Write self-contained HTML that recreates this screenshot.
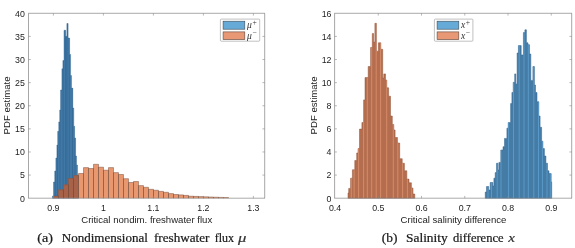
<!DOCTYPE html>
<html lang="en"><head><meta charset="utf-8"><title>PDF estimates</title>
<style>html,body{margin:0;padding:0;background:#fff}svg{display:block}.s{font-family:"Liberation Sans",sans-serif;font-size:8.8px;fill:#1c1c1c}.l{font-size:9.58px}.c{font-family:"Liberation Serif",serif;font-size:12.2px;fill:#1a1a1a;stroke:#1a1a1a;stroke-width:0.22px}.m{font-family:"Liberation Serif",serif;font-style:italic;fill:#333}</style></head><body>
<svg width="575" height="248" viewBox="0 0 575 248">
<rect width="575" height="248" fill="#fff"/>
<polygon points="52.50,198.20 52.50,196.00 53.50,196.00 53.50,182.00 54.75,182.00 54.75,171.00 55.90,171.00 55.90,158.00 56.90,158.00 56.90,145.00 57.75,145.00 57.75,131.25 58.75,131.25 58.75,121.90 59.75,121.90 59.75,110.00 60.60,110.00 60.60,90.00 61.90,90.00 61.90,68.75 62.90,68.75 62.90,60.60 64.00,60.60 64.00,30.25 65.60,30.25 65.60,36.25 66.90,36.25 66.90,23.50 68.10,23.50 68.10,38.10 69.60,38.10 69.60,54.40 70.60,54.40 70.60,75.60 71.50,75.60 71.50,88.10 72.75,88.10 72.75,108.00 73.75,108.00 73.75,126.25 74.60,126.25 74.60,138.00 75.60,138.00 75.60,156.00 76.50,156.00 76.50,165.00 77.50,165.00 77.50,175.00 78.30,175.00 78.30,198.20" fill="#4179a6" stroke="#2f6390" stroke-width="0.4" stroke-linejoin="round"/>
<clipPath id="cb1"><polygon points="52.50,198.20 52.50,196.00 53.50,196.00 53.50,182.00 54.75,182.00 54.75,171.00 55.90,171.00 55.90,158.00 56.90,158.00 56.90,145.00 57.75,145.00 57.75,131.25 58.75,131.25 58.75,121.90 59.75,121.90 59.75,110.00 60.60,110.00 60.60,90.00 61.90,90.00 61.90,68.75 62.90,68.75 62.90,60.60 64.00,60.60 64.00,30.25 65.60,30.25 65.60,36.25 66.90,36.25 66.90,23.50 68.10,23.50 68.10,38.10 69.60,38.10 69.60,54.40 70.60,54.40 70.60,75.60 71.50,75.60 71.50,88.10 72.75,88.10 72.75,108.00 73.75,108.00 73.75,126.25 74.60,126.25 74.60,138.00 75.60,138.00 75.60,156.00 76.50,156.00 76.50,165.00 77.50,165.00 77.50,175.00 78.30,175.00 78.30,198.20"/></clipPath>
<path d="M55.20 0V198.2M57.40 0V198.2M60.00 0V198.2M63.10 0V198.2M65.60 0V198.2M66.90 0V198.2M69.30 0V198.2M72.50 0V198.2M75.00 0V198.2" stroke="#2b5a86" stroke-width="0.6" fill="none" opacity="0.8" clip-path="url(#cb1)"/>
<rect x="53.50" y="196.25" width="5.00" height="1.95" fill="#e9976f"/>
<rect x="58.50" y="189.75" width="5.00" height="8.45" fill="#e9976f"/>
<rect x="63.50" y="184.75" width="5.00" height="13.45" fill="#e9976f"/>
<rect x="68.50" y="178.50" width="5.00" height="19.70" fill="#e9976f"/>
<rect x="73.50" y="175.60" width="5.00" height="22.60" fill="#e9976f"/>
<rect x="78.50" y="173.50" width="5.00" height="24.70" fill="#e9976f"/>
<rect x="83.50" y="167.60" width="5.00" height="30.60" fill="#e9976f"/>
<rect x="88.50" y="168.50" width="5.00" height="29.70" fill="#e9976f"/>
<rect x="93.50" y="164.30" width="5.00" height="33.90" fill="#e9976f"/>
<rect x="98.50" y="167.20" width="5.00" height="31.00" fill="#e9976f"/>
<rect x="103.50" y="170.20" width="5.00" height="28.00" fill="#e9976f"/>
<rect x="108.50" y="167.60" width="5.00" height="30.60" fill="#e9976f"/>
<rect x="113.50" y="172.60" width="5.00" height="25.60" fill="#e9976f"/>
<rect x="118.50" y="174.50" width="5.00" height="23.70" fill="#e9976f"/>
<rect x="123.50" y="178.70" width="5.00" height="19.50" fill="#e9976f"/>
<rect x="128.50" y="182.50" width="5.00" height="15.70" fill="#e9976f"/>
<rect x="133.50" y="181.50" width="5.00" height="16.70" fill="#e9976f"/>
<rect x="138.50" y="185.60" width="5.00" height="12.60" fill="#e9976f"/>
<rect x="143.50" y="187.30" width="5.00" height="10.90" fill="#e9976f"/>
<rect x="148.50" y="189.30" width="5.00" height="8.90" fill="#e9976f"/>
<rect x="153.50" y="190.25" width="5.00" height="7.95" fill="#e9976f"/>
<rect x="158.50" y="191.40" width="5.00" height="6.80" fill="#e9976f"/>
<rect x="163.50" y="192.30" width="5.00" height="5.90" fill="#e9976f"/>
<rect x="168.50" y="193.60" width="5.00" height="4.60" fill="#e9976f"/>
<rect x="173.50" y="194.50" width="5.00" height="3.70" fill="#e9976f"/>
<rect x="178.50" y="194.90" width="5.00" height="3.30" fill="#e9976f"/>
<rect x="183.50" y="195.40" width="5.00" height="2.80" fill="#e9976f"/>
<rect x="188.50" y="196.20" width="5.00" height="2.00" fill="#e9976f"/>
<rect x="193.50" y="196.40" width="5.00" height="1.80" fill="#e9976f"/>
<rect x="198.50" y="196.60" width="5.00" height="1.60" fill="#e9976f"/>
<rect x="203.50" y="196.80" width="5.00" height="1.40" fill="#e9976f"/>
<rect x="208.50" y="197.00" width="5.00" height="1.20" fill="#e9976f"/>
<rect x="213.50" y="197.20" width="5.00" height="1.00" fill="#e9976f"/>
<rect x="218.50" y="197.40" width="5.00" height="0.80" fill="#e9976f"/>
<rect x="223.50" y="197.50" width="5.00" height="0.70" fill="#e9976f"/>
<g clip-path="url(#cb1)" fill="#a9624a"><rect x="53.50" y="196.25" width="5.00" height="1.95"/><rect x="58.50" y="189.75" width="5.00" height="8.45"/><rect x="63.50" y="184.75" width="5.00" height="13.45"/><rect x="68.50" y="178.50" width="5.00" height="19.70"/><rect x="73.50" y="175.60" width="5.00" height="22.60"/><rect x="78.50" y="173.50" width="5.00" height="24.70"/></g>
<path d="M53.50 198.2V196.25H58.50V198.2M58.50 198.2V189.75H63.50V198.2M63.50 198.2V184.75H68.50V198.2M68.50 198.2V178.50H73.50V198.2M73.50 198.2V175.60H78.50V198.2M78.50 198.2V173.50H83.50V198.2M83.50 198.2V167.60H88.50V198.2M88.50 198.2V168.50H93.50V198.2M93.50 198.2V164.30H98.50V198.2M98.50 198.2V167.20H103.50V198.2M103.50 198.2V170.20H108.50V198.2M108.50 198.2V167.60H113.50V198.2M113.50 198.2V172.60H118.50V198.2M118.50 198.2V174.50H123.50V198.2M123.50 198.2V178.70H128.50V198.2M128.50 198.2V182.50H133.50V198.2M133.50 198.2V181.50H138.50V198.2M138.50 198.2V185.60H143.50V198.2M143.50 198.2V187.30H148.50V198.2M148.50 198.2V189.30H153.50V198.2M153.50 198.2V190.25H158.50V198.2M158.50 198.2V191.40H163.50V198.2M163.50 198.2V192.30H168.50V198.2M168.50 198.2V193.60H173.50V198.2M173.50 198.2V194.50H178.50V198.2M178.50 198.2V194.90H183.50V198.2M183.50 198.2V195.40H188.50V198.2M188.50 198.2V196.20H193.50V198.2M193.50 198.2V196.40H198.50V198.2M198.50 198.2V196.60H203.50V198.2M203.50 198.2V196.80H208.50V198.2M208.50 198.2V197.00H213.50V198.2M213.50 198.2V197.20H218.50V198.2M218.50 198.2V197.40H223.50V198.2M223.50 198.2V197.50H228.50V198.2" fill="none" stroke="#6e4534" stroke-width="0.55" stroke-opacity="0.85"/>
<path d="M28.5 13.3V198.2M264.7 13.3V198.2" fill="none" stroke="#777" stroke-width="0.65"/>
<path d="M28.2 13.3H265.0M28.2 198.2H265.0" fill="none" stroke="#858585" stroke-width="0.7"/>
<path d="M53.40 198.2v-2.3M53.40 13.3v2.3M103.40 198.2v-2.3M103.40 13.3v2.3M153.40 198.2v-2.3M153.40 13.3v2.3M203.40 198.2v-2.3M203.40 13.3v2.3M253.40 198.2v-2.3M253.40 13.3v2.3M28.5 175.09h2.3M264.7 175.09h-2.3M28.5 151.97h2.3M264.7 151.97h-2.3M28.5 128.86h2.3M264.7 128.86h-2.3M28.5 105.75h2.3M264.7 105.75h-2.3M28.5 82.64h2.3M264.7 82.64h-2.3M28.5 59.52h2.3M264.7 59.52h-2.3M28.5 36.41h2.3M264.7 36.41h-2.3" stroke="#8a8a8a" stroke-width="0.6" fill="none"/>
<clipPath id="co2"><polygon points="348.00,198.20 348.00,193.00 348.70,193.00 348.70,188.40 350.60,188.40 350.60,178.20 352.40,178.20 352.40,169.80 354.80,169.80 354.80,160.50 356.70,160.50 356.70,153.00 358.00,153.00 358.00,148.60 359.50,148.60 359.50,129.10 361.90,129.10 361.90,122.60 363.60,122.60 363.60,99.90 365.00,99.90 365.00,77.60 368.20,77.60 368.20,66.50 370.60,66.50 370.60,47.50 372.30,47.50 372.30,33.50 373.60,33.50 373.60,41.90 374.90,41.90 374.90,23.30 376.40,23.30 376.40,51.20 378.40,51.20 378.40,42.80 380.80,42.80 380.80,49.30 382.70,49.30 382.70,78.00 383.80,78.00 383.80,73.90 385.50,73.90 385.50,80.00 386.75,80.00 386.75,87.80 388.60,87.80 388.60,96.20 390.50,96.20 390.50,116.00 392.30,116.00 392.30,124.50 393.80,124.50 393.80,130.00 395.10,130.00 395.10,137.50 397.50,137.50 397.50,143.00 399.70,143.00 399.70,158.70 402.20,158.70 402.20,163.30 404.40,163.30 404.40,170.80 406.80,170.80 406.80,179.10 409.00,179.10 409.00,182.80 411.40,182.80 411.40,188.00 413.00,188.00 413.00,194.00 414.75,194.00 414.75,198.20"/></clipPath>
<clipPath id="cb2"><polygon points="485.25,198.20 485.25,192.00 486.50,192.00 486.50,186.50 488.70,186.50 488.70,190.00 490.20,190.00 490.20,182.50 492.80,182.50 492.80,186.00 493.90,186.00 493.90,178.20 495.20,178.20 495.20,172.60 496.50,172.60 496.50,163.30 498.00,163.30 498.00,170.00 498.90,170.00 498.90,162.40 500.80,162.40 500.80,150.00 503.00,150.00 503.00,146.70 504.50,146.70 504.50,138.40 506.90,138.40 506.90,128.20 508.20,128.20 508.20,122.60 510.60,122.60 510.60,103.60 511.90,103.60 511.90,92.50 513.20,92.50 513.20,82.30 514.70,82.30 514.70,73.90 515.80,73.90 515.80,84.00 517.10,84.00 517.10,53.00 518.40,53.00 518.40,45.60 521.20,45.60 521.20,54.90 523.40,54.90 523.40,32.60 524.90,32.60 524.90,29.80 526.40,29.80 526.40,42.80 528.00,42.80 528.00,44.70 529.50,44.70 529.50,54.00 530.80,54.00 530.80,80.40 532.90,80.40 532.90,66.50 534.40,66.50 534.40,85.00 535.50,85.00 535.50,92.50 537.00,92.50 537.00,101.70 538.80,101.70 538.80,116.10 540.10,116.10 540.10,127.30 541.60,127.30 541.60,141.20 542.90,141.20 542.90,148.60 544.40,148.60 544.40,156.00 545.90,156.00 545.90,163.30 547.50,163.30 547.50,170.80 549.00,170.80 549.00,173.60 551.20,173.60 551.20,181.90 551.70,181.90 551.70,198.20"/></clipPath>
<polygon points="348.00,198.20 348.00,193.00 348.70,193.00 348.70,188.40 350.60,188.40 350.60,178.20 352.40,178.20 352.40,169.80 354.80,169.80 354.80,160.50 356.70,160.50 356.70,153.00 358.00,153.00 358.00,148.60 359.50,148.60 359.50,129.10 361.90,129.10 361.90,122.60 363.60,122.60 363.60,99.90 365.00,99.90 365.00,77.60 368.20,77.60 368.20,66.50 370.60,66.50 370.60,47.50 372.30,47.50 372.30,33.50 373.60,33.50 373.60,41.90 374.90,41.90 374.90,23.30 376.40,23.30 376.40,51.20 378.40,51.20 378.40,42.80 380.80,42.80 380.80,49.30 382.70,49.30 382.70,78.00 383.80,78.00 383.80,73.90 385.50,73.90 385.50,80.00 386.75,80.00 386.75,87.80 388.60,87.80 388.60,96.20 390.50,96.20 390.50,116.00 392.30,116.00 392.30,124.50 393.80,124.50 393.80,130.00 395.10,130.00 395.10,137.50 397.50,137.50 397.50,143.00 399.70,143.00 399.70,158.70 402.20,158.70 402.20,163.30 404.40,163.30 404.40,170.80 406.80,170.80 406.80,179.10 409.00,179.10 409.00,182.80 411.40,182.80 411.40,188.00 413.00,188.00 413.00,194.00 414.75,194.00 414.75,198.20" fill="#b46e4f" stroke="#8f5238" stroke-width="0.5" stroke-linejoin="round"/>
<path d="M351.30 0V198.2M354.10 0V198.2M358.60 0V198.2M363.60 0V198.2M367.30 0V198.2M371.70 0V198.2M376.20 0V198.2M380.60 0V198.2M386.70 0V198.2M393.30 0V198.2M397.80 0V198.2M402.60 0V198.2M407.40 0V198.2M411.80 0V198.2" stroke="#e39670" stroke-width="0.9" fill="none" clip-path="url(#co2)" opacity="0.8"/>
<polygon points="485.25,198.20 485.25,192.00 486.50,192.00 486.50,186.50 488.70,186.50 488.70,190.00 490.20,190.00 490.20,182.50 492.80,182.50 492.80,186.00 493.90,186.00 493.90,178.20 495.20,178.20 495.20,172.60 496.50,172.60 496.50,163.30 498.00,163.30 498.00,170.00 498.90,170.00 498.90,162.40 500.80,162.40 500.80,150.00 503.00,150.00 503.00,146.70 504.50,146.70 504.50,138.40 506.90,138.40 506.90,128.20 508.20,128.20 508.20,122.60 510.60,122.60 510.60,103.60 511.90,103.60 511.90,92.50 513.20,92.50 513.20,82.30 514.70,82.30 514.70,73.90 515.80,73.90 515.80,84.00 517.10,84.00 517.10,53.00 518.40,53.00 518.40,45.60 521.20,45.60 521.20,54.90 523.40,54.90 523.40,32.60 524.90,32.60 524.90,29.80 526.40,29.80 526.40,42.80 528.00,42.80 528.00,44.70 529.50,44.70 529.50,54.00 530.80,54.00 530.80,80.40 532.90,80.40 532.90,66.50 534.40,66.50 534.40,85.00 535.50,85.00 535.50,92.50 537.00,92.50 537.00,101.70 538.80,101.70 538.80,116.10 540.10,116.10 540.10,127.30 541.60,127.30 541.60,141.20 542.90,141.20 542.90,148.60 544.40,148.60 544.40,156.00 545.90,156.00 545.90,163.30 547.50,163.30 547.50,170.80 549.00,170.80 549.00,173.60 551.20,173.60 551.20,181.90 551.70,181.90 551.70,198.20" fill="#457ca5" stroke="#2f6390" stroke-width="0.5" stroke-linejoin="round"/>
<path d="M488.00 0V198.2M491.50 0V198.2M497.20 0V198.2M501.00 0V198.2M508.60 0V198.2M513.50 0V198.2M519.20 0V198.2M524.00 0V198.2M528.30 0V198.2M533.80 0V198.2M538.50 0V198.2M542.40 0V198.2M547.00 0V198.2M550.30 0V198.2" stroke="#62a5d8" stroke-width="0.9" fill="none" clip-path="url(#cb2)" opacity="0.8"/>
<path d="M334.6 13.3V198.2M571.7 13.3V198.2" fill="none" stroke="#777" stroke-width="0.65"/>
<path d="M334.3 13.3H572.0M334.3 198.2H572.0" fill="none" stroke="#858585" stroke-width="0.7"/>
<path d="M378.25 198.2v-2.3M378.25 13.3v2.3M421.50 198.2v-2.3M421.50 13.3v2.3M464.75 198.2v-2.3M464.75 13.3v2.3M508.00 198.2v-2.3M508.00 13.3v2.3M551.25 198.2v-2.3M551.25 13.3v2.3M334.6 175.09h2.3M571.7 175.09h-2.3M334.6 151.97h2.3M571.7 151.97h-2.3M334.6 128.86h2.3M571.7 128.86h-2.3M334.6 105.75h2.3M571.7 105.75h-2.3M334.6 82.64h2.3M571.7 82.64h-2.3M334.6 59.52h2.3M571.7 59.52h-2.3M334.6 36.41h2.3M571.7 36.41h-2.3" stroke="#8a8a8a" stroke-width="0.6" fill="none"/>
<text class="s" x="53.40" y="210.8" text-anchor="middle">0.9</text>
<text class="s" x="103.40" y="210.8" text-anchor="middle">1</text>
<text class="s" x="153.40" y="210.8" text-anchor="middle">1.1</text>
<text class="s" x="203.40" y="210.8" text-anchor="middle">1.2</text>
<text class="s" x="253.40" y="210.8" text-anchor="middle">1.3</text>
<text class="s" x="24.8" y="201.50" text-anchor="end">0</text>
<text class="s" x="24.8" y="178.39" text-anchor="end">5</text>
<text class="s" x="24.8" y="155.28" text-anchor="end">10</text>
<text class="s" x="24.8" y="132.16" text-anchor="end">15</text>
<text class="s" x="24.8" y="109.05" text-anchor="end">20</text>
<text class="s" x="24.8" y="85.94" text-anchor="end">25</text>
<text class="s" x="24.8" y="62.82" text-anchor="end">30</text>
<text class="s" x="24.8" y="39.71" text-anchor="end">35</text>
<text class="s" x="24.8" y="16.60" text-anchor="end">40</text>
<text class="s" x="335.00" y="210.8" text-anchor="middle">0.4</text>
<text class="s" x="378.25" y="210.8" text-anchor="middle">0.5</text>
<text class="s" x="421.50" y="210.8" text-anchor="middle">0.6</text>
<text class="s" x="464.75" y="210.8" text-anchor="middle">0.7</text>
<text class="s" x="508.00" y="210.8" text-anchor="middle">0.8</text>
<text class="s" x="551.25" y="210.8" text-anchor="middle">0.9</text>
<text class="s" x="331.5" y="201.50" text-anchor="end">0</text>
<text class="s" x="331.5" y="178.39" text-anchor="end">2</text>
<text class="s" x="331.5" y="155.28" text-anchor="end">4</text>
<text class="s" x="331.5" y="132.16" text-anchor="end">6</text>
<text class="s" x="331.5" y="109.05" text-anchor="end">8</text>
<text class="s" x="331.5" y="85.94" text-anchor="end">10</text>
<text class="s" x="331.5" y="62.82" text-anchor="end">12</text>
<text class="s" x="331.5" y="39.71" text-anchor="end">14</text>
<text class="s" x="331.5" y="16.60" text-anchor="end">16</text>
<text class="s l" x="146.7" y="223" text-anchor="middle">Critical nondim. freshwater flux</text>
<text class="s l" x="453.5" y="223" text-anchor="middle">Critical salinity difference</text>
<text class="s l" transform="translate(9.9 105.4) rotate(-90)" text-anchor="middle">PDF estimate</text>
<text class="s l" transform="translate(316.7 105.4) rotate(-90)" text-anchor="middle">PDF estimate</text>
<rect x="220.4" y="19.1" width="39.3" height="22.1" rx="0.8" fill="#fff" stroke="#a6a6a6" stroke-width="0.7"/>
<rect x="223.1" y="21.200000000000003" width="21.7" height="8.0" fill="#66aad7" stroke="#3d4a55" stroke-width="0.6"/>
<rect x="223.1" y="31.900000000000002" width="21.7" height="7.7" fill="#e89875" stroke="#5a463d" stroke-width="0.6"/>
<text class="m" x="247.0" y="28.0" font-size="9.6">μ<tspan dx="0.6" dy="-3.4" font-size="7.6" font-style="normal">+</tspan></text>
<text class="m" x="247.0" y="38.5" font-size="9.6">μ<tspan dx="0.6" dy="-3.4" font-size="7.6" font-style="normal">−</tspan></text>
<rect x="434.4" y="19.1" width="38.5" height="22.1" rx="0.8" fill="#fff" stroke="#a6a6a6" stroke-width="0.7"/>
<rect x="437.09999999999997" y="21.200000000000003" width="21.7" height="8.0" fill="#66aad7" stroke="#3d4a55" stroke-width="0.6"/>
<rect x="437.09999999999997" y="31.900000000000002" width="21.7" height="7.7" fill="#e89875" stroke="#5a463d" stroke-width="0.6"/>
<text class="m" x="461.0" y="28.0" font-size="9.6">x<tspan dx="0.6" dy="-3.4" font-size="7.6" font-style="normal">+</tspan></text>
<text class="m" x="461.0" y="38.5" font-size="9.6">x<tspan dx="0.6" dy="-3.4" font-size="7.6" font-style="normal">−</tspan></text>
<text class="c" x="37.3" y="242" textLength="15.7" lengthAdjust="spacingAndGlyphs">(a)</text>
<text class="c" x="61.8" y="242" textLength="86.1" lengthAdjust="spacingAndGlyphs">Nondimensional</text>
<text class="c" x="153.9" y="242" textLength="55.6" lengthAdjust="spacingAndGlyphs">freshwater</text>
<text class="c" x="214.7" y="242" textLength="19.3" lengthAdjust="spacingAndGlyphs">flux</text>
<text class="m" x="238" y="242" font-size="13" stroke="#333" stroke-width="0.2" textLength="8.4" lengthAdjust="spacingAndGlyphs">μ</text>
<text class="c" x="381.7" y="242" textLength="15.7" lengthAdjust="spacingAndGlyphs">(b)</text>
<text class="c" x="406" y="242" textLength="41.7" lengthAdjust="spacingAndGlyphs">Salinity</text>
<text class="c" x="453" y="242" textLength="50.6" lengthAdjust="spacingAndGlyphs">difference</text>
<text class="m" x="508.2" y="242" font-size="13" stroke="#333" stroke-width="0.2" textLength="6.7" lengthAdjust="spacingAndGlyphs">x</text>
</svg></body></html>
